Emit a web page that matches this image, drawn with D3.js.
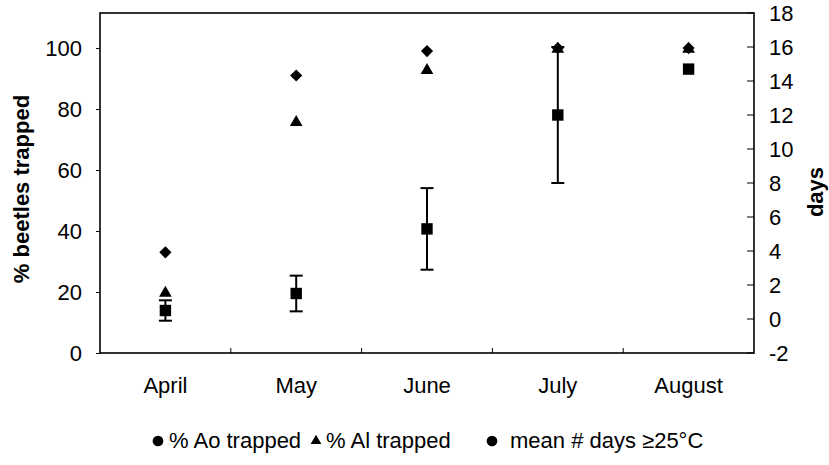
<!DOCTYPE html>
<html><head><meta charset="utf-8">
<script src="https://cdn.jsdelivr.net/npm/d3@7"></script>
<style>body{margin:0;background:#fff}svg{display:block}text{font-family:"Liberation Sans",Arial,sans-serif;fill:#000}</style>
</head><body>
<svg id="c" width="829" height="465"></svg>
<script>
const months = ["April","May","June","July","August"];
const aoTrapped = [33, 91, 99, 100, 100];
const alTrapped = [20, 76, 93, 100, 100];
const meanDays = [0.5, 1.5, 5.3, 12, 14.7];
const daysErr = [0.6, 1.05, 2.4, 4, 0];
const leftTicks = [0,20,40,60,80,100];
const rightTicks = [-2,0,2,4,6,8,10,12,14,16,18];

const svg = d3.select("#c");
const L=100, R=754, T=13, B=353;
const FS = "22px";
const x = d3.scaleBand().domain(months).range([L,R]);
const yl = d3.scaleLinear().domain([0,111.5]).range([B,T]);
const yr = d3.scaleLinear().domain([-2,18]).range([B,T]);

// frame
svg.append("rect").attr("x",L).attr("y",T).attr("width",R-L).attr("height",B-T)
  .attr("fill","none").attr("stroke","#000").attr("stroke-width",1.6);

// left axis
const gl = svg.append("g").attr("transform",`translate(${L},0)`)
  .call(d3.axisLeft(yl).tickValues(leftTicks).tickSize(4).tickPadding(14).tickFormat(d=>String(d)));
gl.select(".domain").remove();
gl.selectAll("text").style("font-size",FS);
// right axis
const gr = svg.append("g").attr("transform",`translate(${R},0)`)
  .call(d3.axisRight(yr).tickValues(rightTicks).tickSize(0).tickPadding(15).tickFormat(d=>String(d)));
gr.select(".domain").remove();
gr.selectAll("text").style("font-size",FS);
svg.append("g").selectAll("line").data(rightTicks).join("line")
  .attr("x1",R-7).attr("x2",R).attr("y1",d=>yr(d)).attr("y2",d=>yr(d)).attr("stroke","#000");
// x axis
const gx = svg.append("g").attr("transform",`translate(0,${B})`)
  .call(d3.axisBottom(x).tickSize(0).tickPadding(24));
gx.select(".domain").remove();
gx.selectAll("text").style("font-size",FS);
svg.append("g").selectAll("line").data(months.slice(1)).join("line")
  .attr("x1",d=>x(d)).attr("x2",d=>x(d)).attr("y1",B).attr("y2",B-5).attr("stroke","#000");

// axis titles
svg.append("text").attr("transform",`translate(29,189) rotate(-90)`)
  .attr("text-anchor","middle").style("font-size","22px").style("font-weight","bold").text("% beetles trapped");
svg.append("text").attr("transform",`translate(823,192) rotate(-90)`)
  .attr("text-anchor","middle").style("font-size","22px").style("font-weight","bold").text("days");

const cx = d=>x(d)+x.bandwidth()/2;

// error bars
const eb = svg.append("g").attr("stroke","#000").attr("stroke-width",2);
months.forEach((m,i)=>{
  if(daysErr[i]<=0) return;
  const y1=yr(meanDays[i]+daysErr[i]), y2=yr(meanDays[i]-daysErr[i]);
  eb.append("line").attr("x1",cx(m)).attr("x2",cx(m)).attr("y1",y1).attr("y2",y2);
  eb.append("line").attr("x1",cx(m)-6.5).attr("x2",cx(m)+6.5).attr("y1",y1).attr("y2",y1);
  eb.append("line").attr("x1",cx(m)-6.5).attr("x2",cx(m)+6.5).attr("y1",y2).attr("y2",y2);
});

// markers
svg.append("g").selectAll("path").data(months).join("path")
  .attr("d",d3.symbol(d3.symbolSquare,130))
  .attr("transform",(d,i)=>`translate(${cx(d)},${yr(meanDays[i])})`);
svg.append("g").selectAll("path").data(months).join("path")
  .attr("d",d3.symbol(d3.symbolTriangle,70))
  .attr("transform",(d,i)=>`translate(${cx(d)},${yl(alTrapped[i])+1})`);
svg.append("g").selectAll("path").data(months).join("path")
  .attr("d",d3.symbol(d3.symbolSquare,74))
  .attr("transform",(d,i)=>`translate(${cx(d)},${yl(aoTrapped[i])}) rotate(45)`);

// legend
const leg = [
  {sym:d3.symbolCircle,size:90,mx:158,tx:169,label:"% Ao trapped"},
  {sym:d3.symbolTriangle,size:50,mx:316,tx:326,label:"% Al trapped"},
  {sym:d3.symbolCircle,size:90,mx:492,tx:510,label:"mean # days \u226525\u00b0C"}
];
const lg = svg.append("g");
leg.forEach(d=>{
  lg.append("path").attr("d",d3.symbol(d.sym,d.size)).attr("transform",`translate(${d.mx},441)`);
  lg.append("text").attr("x",d.tx).attr("y",448).style("font-size","22px").text(d.label);
});
</script>
</body></html>
